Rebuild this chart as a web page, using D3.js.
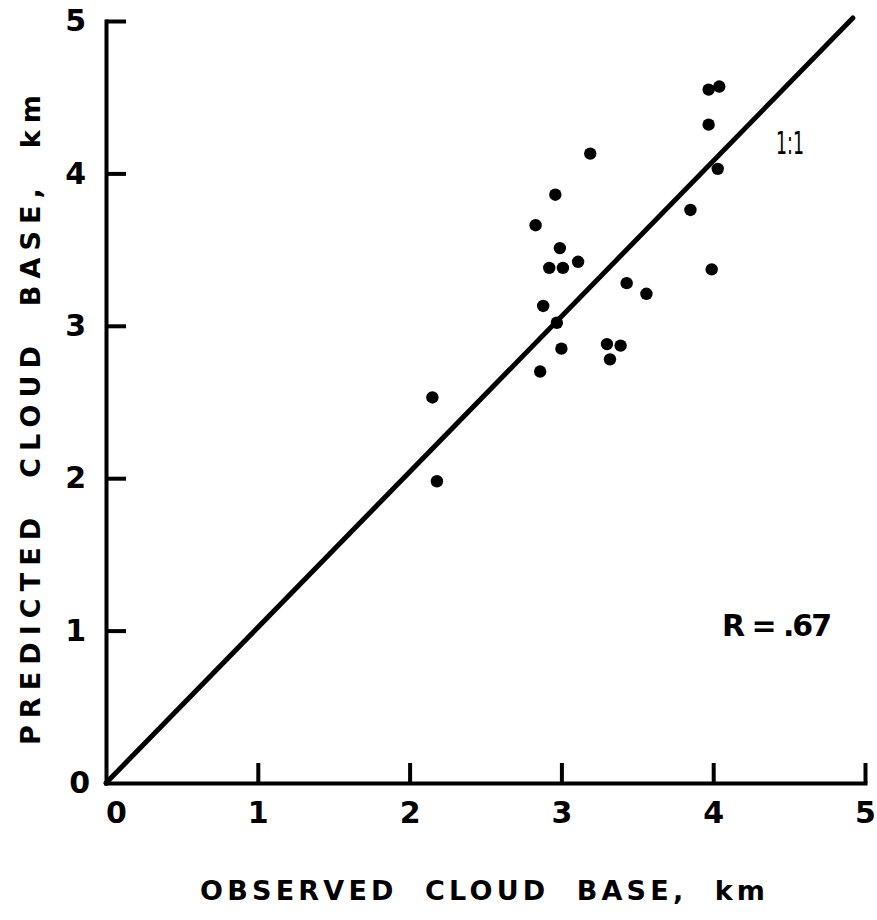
<!DOCTYPE html>
<html>
<head>
<meta charset="utf-8">
<script src="https://cdn.jsdelivr.net/npm/d3@7"></script>
<style>
  html, body { margin: 0; padding: 0; background: #fff; }
  svg { display: block; }
  text { font-family: "DejaVu Sans", sans-serif; fill: #000; }
</style>
</head>
<body>
<svg id="chart" width="877" height="920"></svg>
<script>
// Observed vs. predicted cloud base heights (km)
const observed  = [3.19, 2.96, 2.83, 2.99, 2.92, 3.01, 3.11, 3.85, 3.43, 3.56, 2.88, 2.97,
                   3.00, 3.30, 3.39, 3.32, 2.86, 2.15, 3.97, 4.04, 3.97, 4.03, 3.99, 2.18];
const predicted = [4.13, 3.86, 3.66, 3.51, 3.38, 3.38, 3.42, 3.76, 3.28, 3.21, 3.13, 3.02,
                   2.85, 2.88, 2.87, 2.78, 2.70, 2.53, 4.55, 4.57, 4.32, 4.03, 3.37, 1.98];
const xTicks = [0, 1, 2, 3, 4, 5];
const yTicks = [0, 1, 2, 3, 4, 5];
// reference 1:1 line as drawn
const oneToOneX = [0, 4.92];
const oneToOneY = [0, 5.02];
const xTitle = "OBSERVED  CLOUD  BASE,  km";
const yTitle = "PREDICTED  CLOUD  BASE,  km";
const rLabel = "R = .67";
const lineLabel = "1:1";

const svg = d3.select("#chart");
const x = d3.scaleLinear().domain([0, 5]).range([106, 865]);
const y = d3.scaleLinear().domain([0, 5]).range([783, 21]);

const inkW = 4;

// x axis with inward ticks
const gx = svg.append("g").attr("transform", `translate(0,${y(0)})`)
  .call(d3.axisBottom(x).tickValues(xTicks).tickSizeInner(-20).tickSizeOuter(0).tickPadding(19)
    .tickFormat(d3.format("d")));
// y axis with inward ticks
const gy = svg.append("g").attr("transform", `translate(${x(0)},0)`)
  .call(d3.axisLeft(y).tickValues(yTicks).tickSizeInner(-20).tickSizeOuter(0).tickPadding(20)
    .tickFormat(d3.format("d")));

[gx, gy].forEach(g => {
  g.select(".domain").attr("stroke", "#000").attr("stroke-width", inkW).attr("stroke-linecap", "square");
  g.selectAll(".tick line").attr("stroke", "#000").attr("stroke-width", inkW)
    .filter(d => d === 0).remove();
  g.selectAll(".tick text").attr("font-size", 30).attr("font-weight", "bold")
    .style("font-family", "DejaVu Sans, sans-serif").attr("fill", "#000");
});
gx.selectAll(".tick text").filter(d => d === 0).attr("dx", 10);
gy.selectAll(".tick text").filter(d => d === 0).attr("dx", 4);

// 1:1 line
svg.append("line")
  .attr("x1", x(oneToOneX[0])).attr("y1", y(oneToOneY[0]))
  .attr("x2", x(oneToOneX[1])).attr("y2", y(oneToOneY[1]))
  .attr("stroke", "#000").attr("stroke-width", 5).attr("stroke-linecap", "round");

// data points
svg.append("g").selectAll("circle")
  .data(observed.map((o, i) => [o, predicted[i]]))
  .join("circle")
  .attr("cx", d => x(d[0])).attr("cy", d => y(d[1])).attr("r", 6.2)
  .attr("fill", "#000");

// annotations
svg.append("text").attr("x", 776).attr("y", 154).attr("font-size", 32)
  .attr("textLength", 28).attr("lengthAdjust", "spacingAndGlyphs").text(lineLabel);
svg.append("text").attr("x", 722).attr("y", 636).attr("font-size", 30)
  .attr("font-weight", "bold").attr("textLength", 110).attr("lengthAdjust", "spacing").text(rLabel);

// axis titles
svg.append("text").attr("x", 200).attr("y", 900).attr("font-size", 27)
  .attr("font-weight", "bold").style("white-space", "pre")
  .attr("textLength", 565).attr("lengthAdjust", "spacing").text(xTitle);
svg.append("text").attr("transform", "translate(40,745) rotate(-90)").attr("x", 0).attr("y", 0)
  .attr("font-size", 27).attr("font-weight", "bold").style("white-space", "pre")
  .attr("textLength", 650).attr("lengthAdjust", "spacing").text(yTitle);
</script>
</body>
</html>
